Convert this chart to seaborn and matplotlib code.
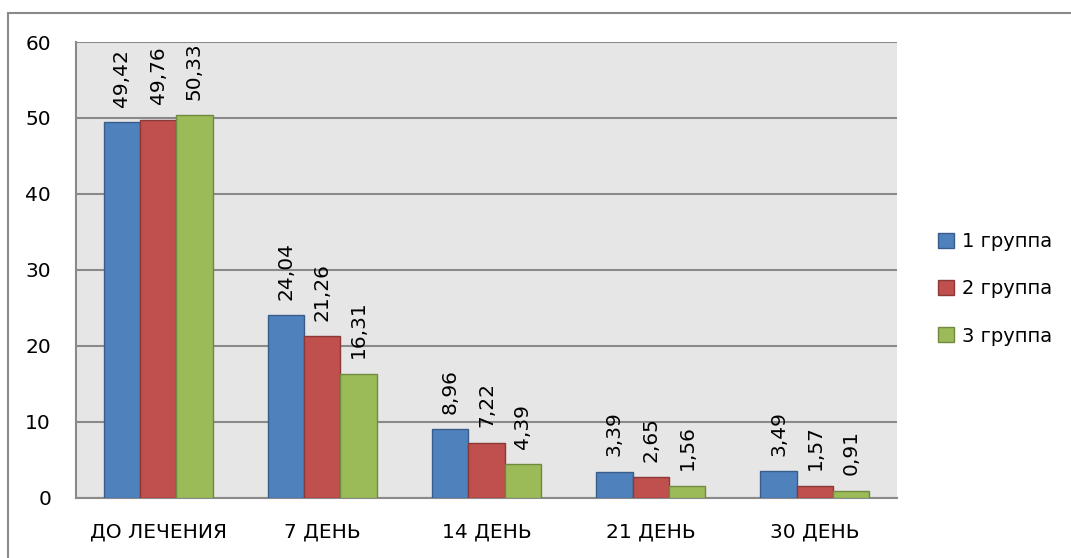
import matplotlib
matplotlib.use("Agg")
import matplotlib.pyplot as plt
from matplotlib.patches import Rectangle, Patch
import numpy as np
import pandas as pd
import seaborn as sns

# Data
categories = ["ДО ЛЕЧЕНИЯ", "7 ДЕНЬ", "14 ДЕНЬ", "21 ДЕНЬ", "30 ДЕНЬ"]
groups = ["1 группа", "2 группа", "3 группа"]
group1 = [49.42, 24.04, 8.96, 3.39, 3.49]
group2 = [49.76, 21.26, 7.22, 2.65, 1.57]
group3 = [50.33, 16.31, 4.39, 1.56, 0.91]
y_ticks = [0, 10, 20, 30, 40, 50, 60]

fills = ["#4F81BD", "#C0504D", "#9BBB59"]
edges = ["#385D8A", "#8C3836", "#71893F"]

df = pd.DataFrame({
    "category": categories * 3,
    "group": [g for g in groups for _ in categories],
    "value": group1 + group2 + group3,
})

sns.set_theme(style="white")
plt.rcParams["font.family"] = ["DejaVu Sans"]
plt.rcParams["text.color"] = "#000000"
plt.rcParams["xtick.labelcolor"] = "#000000"
plt.rcParams["ytick.labelcolor"] = "#000000"

FS = 14.5
LABEL_FS = 14.5
GRID = "#8A8A8A"

fig = plt.figure(figsize=(10.71, 5.58), dpi=100)
ax = fig.add_axes([76 / 1071, 1 - 497.5 / 558, (897 - 76) / 1071, (497.5 - 42) / 558])
ax.set_facecolor("#E6E6E6")

sns.barplot(data=df, x="category", y="value", hue="group", order=categories,
            hue_order=groups, palette=fills, width=0.665, gap=0,
            saturation=1, legend=False, ax=ax, zorder=3)

for container, ec in zip(ax.containers, edges):
    for bar in container:
        bar.set_edgecolor(ec)
        bar.set_linewidth(1.0)

series = [group1, group2, group3]
for container, vals in zip(ax.containers, series):
    labels = [f"{v:.2f}".replace(".", ",") for v in vals]
    ax.bar_label(container, labels=labels, rotation=90, padding=11,
                 fontsize=LABEL_FS, color="#000000")

ax.set_ylim(0, 60)
ax.set_xlim(-0.5, len(categories) - 0.5)
ax.set_yticks(y_ticks)
ax.set_yticklabels([str(t) for t in y_ticks], fontsize=FS, color="#000000")
ax.set_xticks(range(len(categories)))
ax.set_xticklabels(categories, fontsize=FS, color="#000000")
ax.set_xticks(np.arange(-0.5, len(categories), 1.0), minor=True)
ax.tick_params(axis="x", which="major", length=0, pad=18)
ax.tick_params(axis="x", which="minor", length=7, width=1.5, color=GRID, direction="out")
ax.tick_params(axis="y", length=7, width=1.5, color=GRID, direction="out", pad=11)
ax.set_xlabel("")
ax.set_ylabel("")

ax.yaxis.grid(True, color=GRID, linewidth=1.5, zorder=1)
ax.set_axisbelow(True)
for side in ["top", "right"]:
    ax.spines[side].set_visible(False)
for side in ["left", "bottom"]:
    ax.spines[side].set_color(GRID)
    ax.spines[side].set_linewidth(1.5)

handles = [Patch(facecolor=f, edgecolor=e, linewidth=1.0, label=g)
           for f, e, g in zip(fills, edges, groups)]
fig.legend(handles=handles, loc="center left", bbox_to_anchor=(938 / 1071, 1 - 289 / 558),
           frameon=False, fontsize=14, handlelength=0.8, handleheight=0.8,
           handletextpad=0.45, labelspacing=1.45, borderaxespad=0, borderpad=0,
           labelcolor="#000000")

# Outer chart frame
fig.patches.append(Rectangle((8 / 1071, -0.1), 1.2, 1 - 13 / 558 + 0.1,
                             transform=fig.transFigure, fill=False,
                             edgecolor=GRID, linewidth=1.5))

fig.savefig("out.png", dpi=100)
